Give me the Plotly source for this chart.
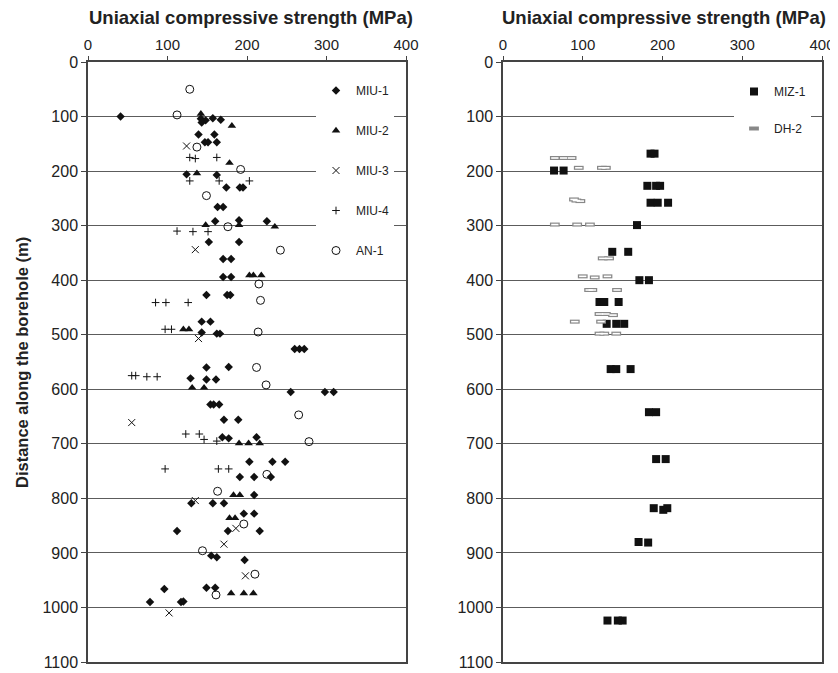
import plotly.graph_objects as go

# ---------------- data (UCS in MPa, depth in m) ----------------
miu1_ucs = [41, 142, 148, 143, 157, 167, 139, 159, 147, 151, 162, 124, 162, 174, 191, 195,
            163, 170, 160, 190, 225, 152, 190,
            170, 180, 170, 180, 149, 175, 179, 143, 154, 143, 162, 166, 260, 266, 272,
            149, 177, 129, 149, 161, 255, 298, 309, 154, 158, 165, 171, 189, 169, 177, 212,
            203, 232, 248, 191, 209, 230, 209, 130, 157, 171, 196, 209, 112, 176, 216,
            155, 162, 197, 96, 149, 160, 78, 117, 120]
miu1_depth = [100, 104, 107, 111, 103, 106, 133, 133, 147, 147, 147, 206, 207, 230, 230, 230,
              266, 266, 292, 290, 292, 330, 330,
              361, 361, 394, 394, 427, 427, 427, 476, 476, 496, 498, 498, 526, 526, 526,
              560, 559, 580, 582, 582, 605, 605, 605, 628, 628, 628, 656, 656, 688, 690, 688,
              733, 733, 733, 761, 761, 761, 794, 809, 809, 809, 828, 828, 860, 860, 860,
              905, 908, 913, 966, 964, 964, 990, 990, 989]

miu2_ucs = [142, 181, 178, 137, 148, 190, 235, 203, 208, 218, 120, 127, 131, 146,
            190, 202, 216, 183, 191, 178, 185, 180, 196, 208]
miu2_depth = [95, 117, 185, 204, 299, 299, 302, 391, 391, 391, 490, 490, 597, 597,
              699, 699, 699, 794, 794, 836, 836, 974, 974, 974]

miu3_ucs = [124, 135, 139, 55, 135, 186, 171, 198, 102]
miu3_depth = [154, 344, 507, 661, 804, 855, 884, 942, 1010]

miu4_ucs = [128, 135, 162, 128, 165, 203, 112, 132, 151, 85, 98, 126, 97, 105,
            55, 60, 74, 87, 123, 140, 146, 162, 97, 164, 177]
miu4_depth = [175, 177, 175, 218, 218, 218, 310, 311, 311, 441, 441, 441, 490, 490,
              575, 575, 577, 577, 682, 682, 692, 695, 746, 746, 746]

an1_ucs = [128, 112, 137, 192, 149, 176, 242, 215, 217, 214, 212, 224, 265, 278,
           225, 163, 196, 144, 210, 161]
an1_depth = [50, 97, 156, 197, 245, 302, 345, 407, 437, 495, 560, 592, 647, 696,
             756, 787, 847, 896, 939, 977]

miz1_ucs = [185, 190, 64, 76, 181, 192, 197, 185, 194, 207, 168, 137, 157, 171, 183,
            121, 127, 145, 130, 142, 152, 135, 142, 160, 183, 192, 192, 204,
            189, 201, 206, 170, 182, 131, 144, 150]
miz1_depth = [168, 168, 199, 199, 227, 227, 227, 258, 258, 258, 299, 348, 348, 400, 400,
              440, 440, 440, 480, 480, 480, 563, 563, 563, 642, 642, 728, 728,
              818, 821, 818, 880, 881, 1024, 1024, 1024]

dh2_ucs = [65, 76, 86, 95, 124, 129, 89, 92, 97, 65, 93, 109, 125, 133, 100, 115, 131,
           108, 112, 143, 121, 129, 138, 90, 123, 121, 127, 142]
dh2_depth = [176, 176, 176, 194, 194, 194, 252, 254, 255, 298, 298, 298, 360, 360, 393, 395, 393,
             418, 418, 418, 462, 462, 464, 476, 476, 498, 498, 498]

x_ticks = [0, 100, 200, 300, 400]
y_ticks = list(range(0, 1101, 100))
x_title = "Uniaxial compressive strength (MPa)"
y_title = "Distance along the borehole (m)"

# ---------------- figure ----------------
# the page body has an 8 px default margin, so the figure is drawn 8 px smaller
# and all positions below are given in window pixels minus that offset
OFF = 8
W, H = 838 - OFF, 673 - OFF
FONT = "Liberation Sans, Arial, sans-serif"


def px(x):
    return (x - OFF) / W


def py(y):
    return 1 - (y - OFF) / H


fig = go.Figure()


def add(x, y, name, symbol, size, xa, ya, leg, lw=1, color="#111", group=None, show=True):
    fig.add_trace(go.Scatter(
        x=x, y=y, mode="markers", name=name, xaxis=xa, yaxis=ya, legend=leg,
        legendgroup=group or name, showlegend=show,
        marker=dict(symbol=symbol, size=size, color=color,
                    line=dict(width=lw, color=color)),
        hoverinfo="x+y+name"))


add(miu1_ucs, miu1_depth, "MIU-1", "diamond", 6.5, "x", "y", "legend", lw=0)
add(miu2_ucs, miu2_depth, "MIU-2", "triangle-up", 7.5, "x", "y", "legend", lw=0)
add(miu3_ucs, miu3_depth, "MIU-3", "x-thin-open", 7, "x", "y", "legend", lw=1)
add(miu4_ucs, miu4_depth, "MIU-4", "cross-thin-open", 5.5, "x", "y", "legend", lw=1)
add(an1_ucs, an1_depth, "AN-1", "circle-open", 8, "x", "y", "legend", lw=1)

add(miz1_ucs, miz1_depth, "MIZ-1", "square", 8, "x2", "y2", "legend2", lw=0)
add(dh2_ucs, dh2_depth, "DH-2", "line-ew-open", 7, "x2", "y2", "legend2", lw=4, color="#888")
add(dh2_ucs, dh2_depth, "DH-2", "line-ew-open", 5.2, "x2", "y2", "legend2", lw=1.6,
    color="#ffffff", group="DH-2", show=False)

xd1 = [px(88), px(406)]
xd2 = [px(503), px(822)]
yd = [py(662), py(62)]

xcommon = dict(range=[0, 400], tickvals=x_ticks, side="top", showline=True, mirror=True,
               linecolor="#444", linewidth=1.5, ticks="outside", ticklen=4, tickcolor="#444",
               showgrid=False, zeroline=False, fixedrange=True, automargin=False,
               tickfont=dict(family=FONT, size=15, color="#222"))
ycommon = dict(range=[1100, 0], tickvals=y_ticks, showline=True, mirror=True,
               linecolor="#444", linewidth=1.5, ticks="outside", ticklen=5, tickcolor="#444",
               showgrid=True, gridcolor="#5c5c5c", gridwidth=1, zeroline=False, fixedrange=True,
               automargin=False, tickfont=dict(family=FONT, size=16, color="#222"))

fig.update_layout(
    width=W, height=H, margin=dict(l=0, r=0, t=0, b=0, autoexpand=False),
    paper_bgcolor="white", plot_bgcolor="white",
    font=dict(family=FONT, color="#222"),
    xaxis=dict(domain=xd1, anchor="y", **xcommon),
    yaxis=dict(domain=yd, anchor="x", **ycommon),
    xaxis2=dict(domain=xd2, anchor="y2", **xcommon),
    yaxis2=dict(domain=yd, anchor="x2", **ycommon),
    legend=dict(x=px(316), y=py(76), xanchor="left", yanchor="top",
                bgcolor="white", borderwidth=0, font=dict(family=FONT, size=12, color="#222"),
                tracegroupgap=21, traceorder="grouped", itemwidth=30),
    legend2=dict(x=px(734), y=py(77), xanchor="left", yanchor="top",
                 bgcolor="white", borderwidth=0, font=dict(family=FONT, size=12, color="#222"),
                 tracegroupgap=18, traceorder="grouped", itemwidth=30),
    annotations=[
        dict(text="<b>%s</b>" % x_title, x=px(251), y=py(17), xref="paper", yref="paper",
             showarrow=False, xanchor="center", yanchor="middle",
             font=dict(family=FONT, size=18.5, color="#222")),
        dict(text="<b>%s</b>" % x_title, x=px(664), y=py(17), xref="paper", yref="paper",
             showarrow=False, xanchor="center", yanchor="middle",
             font=dict(family=FONT, size=18.5, color="#222")),
        dict(text="<b>%s</b>" % y_title, x=px(22), y=py(363), xref="paper", yref="paper",
             showarrow=False, xanchor="center", yanchor="middle", textangle=-90,
             font=dict(family=FONT, size=16.5, color="#222")),
    ],
)

fig.write_html("out.html")
